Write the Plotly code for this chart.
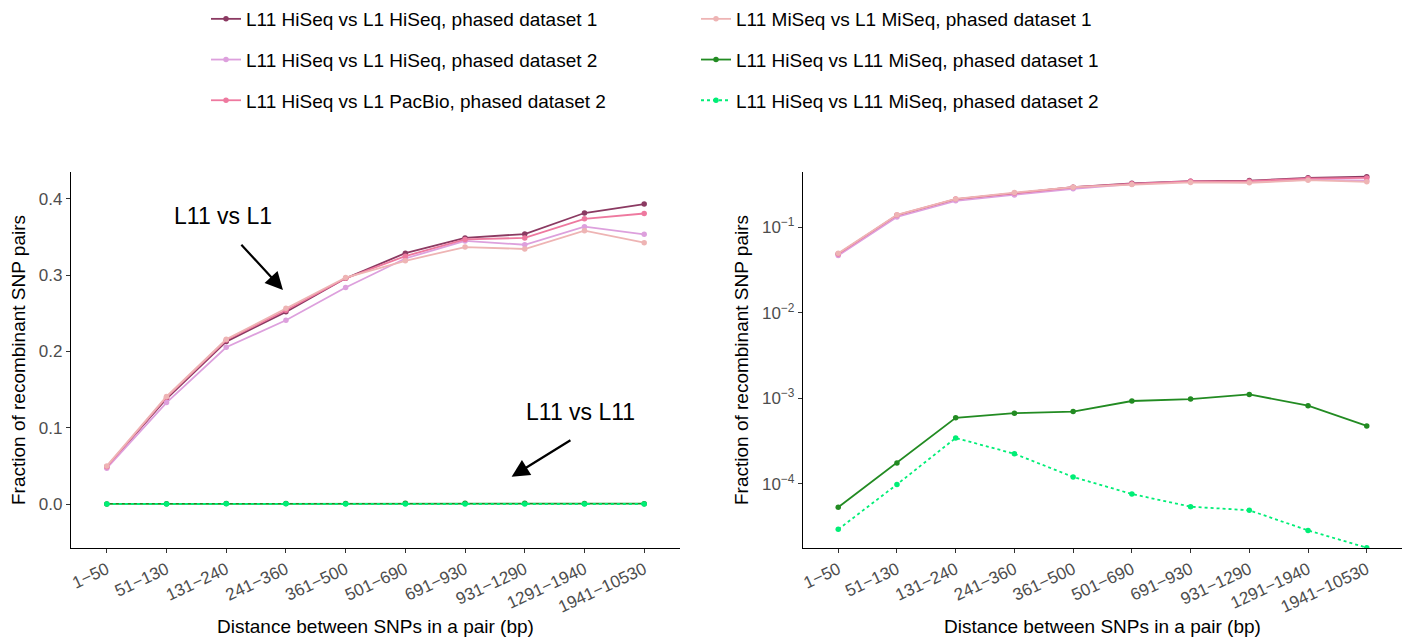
import plotly.graph_objects as go

categories = ["1\u221250", "51\u2212130", "131\u2212240", "241\u2212360", "361\u2212500",
              "501\u2212690", "691\u2212930", "931\u22121290", "1291\u22121940", "1941\u221210530"]

hiseq_l1_ds1 = [0.049, 0.138, 0.213, 0.252, 0.296, 0.329, 0.349, 0.354, 0.3816, 0.3934]
hiseq_l1_ds2 = [0.047, 0.133, 0.2055, 0.241, 0.284, 0.322, 0.345, 0.340, 0.3637, 0.3537]
pacbio_l1_ds2 = [0.049, 0.140, 0.215, 0.254, 0.296, 0.325, 0.347, 0.349, 0.374, 0.381]
miseq_l1_ds1 = [0.050, 0.141, 0.216, 0.2566, 0.297, 0.319, 0.337, 0.3344, 0.3585, 0.3427]
hiseq_miseq_ds1 = [5.3e-5, 1.75e-4, 5.9e-4, 6.7e-4, 7.0e-4, 9.3e-4, 9.8e-4, 1.11e-3, 8.2e-4, 4.75e-4]
hiseq_miseq_ds2 = [2.92e-5, 9.8e-5, 3.43e-4, 2.24e-4, 1.2e-4, 7.57e-5, 5.38e-5, 4.88e-5, 2.84e-5, 1.78e-5]

series = [
    ("L11 HiSeq vs L1 HiSeq, phased dataset 1", hiseq_l1_ds1, "#8B3A62", "solid", "legend"),
    ("L11 HiSeq vs L1 HiSeq, phased dataset 2", hiseq_l1_ds2, "#DDA0DD", "solid", "legend"),
    ("L11 HiSeq vs L1 PacBio, phased dataset 2", pacbio_l1_ds2, "#EE799F", "solid", "legend"),
    ("L11 MiSeq vs L1 MiSeq, phased dataset 1", miseq_l1_ds1, "#EEB4B4", "solid", "legend2"),
    ("L11 HiSeq vs L11 MiSeq, phased dataset 1", hiseq_miseq_ds1, "#228B22", "solid", "legend2"),
    ("L11 HiSeq vs L11 MiSeq, phased dataset 2", hiseq_miseq_ds2, "#00EE76", "dot", "legend2"),
]

left_ticks = [0.0, 0.1, 0.2, 0.3, 0.4]
log_tickvals = [1e-4, 1e-3, 1e-2, 1e-1]
log_ticktext = ["10<sup>\u22124</sup>", "10<sup>\u22123</sup>", "10<sup>\u22122</sup>", "10<sup>\u22121</sup>"]

FONT = "Liberation Sans, Arial, Helvetica, sans-serif"
W, H = 1407, 643

fig = go.Figure()
idx = list(range(len(categories)))
for i, (name, vals, color, dash, leg) in enumerate(series):
    for ax, show in (("", True), ("2", False)):
        fig.add_trace(go.Scatter(
            x=idx, y=vals, name=name, mode="lines+markers",
            line=dict(color=color, width=1.8, dash=dash),
            marker=dict(color=color, size=5.5),
            xaxis="x" + ax, yaxis="y" + ax,
            showlegend=show, legend=leg, legendgroup="g%d" % i,
        ))


def px_x(p):
    return p / W


def px_y(p):
    return 1 - p / H


axis_common = dict(
    showgrid=False, zeroline=False, showline=True, linecolor="black", linewidth=1.3,
    ticks="outside", ticklen=4, tickcolor="#333333", tickwidth=1.1,
    tickfont=dict(family=FONT, size=17, color="#4D4D4D"), automargin=False,
)

TITLE_FONT = dict(family=FONT, size=19, color="black")

xcommon = dict(axis_common, tickmode="array", tickvals=idx, ticktext=categories,
               tickangle=-25, range=[-0.6, 9.6],
               title=dict(text="Distance between SNPs in a pair (bp)",
                          font=TITLE_FONT, standoff=4))

fig.update_layout(
    width=W, height=H,
    margin=dict(l=0, r=0, t=0, b=0),
    paper_bgcolor="white", plot_bgcolor="white",
    font=dict(family=FONT),
    xaxis=dict(xcommon, domain=[px_x(71), px_x(680)], anchor="y"),
    xaxis2=dict(xcommon, domain=[px_x(803), px_x(1402)], anchor="y2"),
    yaxis=dict(axis_common, domain=[px_y(548), px_y(172)], anchor="x",
               range=[-0.0577, 0.4354], tickmode="array", tickvals=left_ticks,
               tickformat=".1f",
               title=dict(text="Fraction of recombinant SNP pairs",
                          font=TITLE_FONT, standoff=8)),
    yaxis2=dict(axis_common, domain=[px_y(548), px_y(172)], anchor="x2",
                type="log", range=[-4.753, -0.35], tickmode="array",
                tickvals=log_tickvals, ticktext=log_ticktext,
                title=dict(text="Fraction of recombinant SNP pairs",
                           font=TITLE_FONT, standoff=8)),
    legend=dict(x=px_x(206), y=1, xanchor="left", yanchor="top",
                orientation="v", tracegroupgap=13,
                font=dict(family=FONT, size=19, color="black"), bgcolor="rgba(0,0,0,0)"),
    legend2=dict(x=px_x(696), y=1, xanchor="left", yanchor="top",
                 orientation="v", tracegroupgap=13,
                 font=dict(family=FONT, size=19, color="black"), bgcolor="rgba(0,0,0,0)"),
)

fig.add_annotation(x=1.944, y=0.378, xref="x", yref="y", text="L11 vs L1",
                   showarrow=False, font=dict(family=FONT, size=23, color="black"))
fig.add_annotation(x=2.95, y=0.2807, ax=2.23, ay=0.342, xref="x", yref="y",
                   axref="x", ayref="y", text="", showarrow=True,
                   arrowhead=2, arrowsize=1.6, arrowwidth=2.2, arrowcolor="black")
fig.add_annotation(x=7.93, y=0.121, xref="x", yref="y", text="L11 vs L11",
                   showarrow=False, font=dict(family=FONT, size=23, color="black"))
fig.add_annotation(x=6.78, y=0.0358, ax=7.79, ay=0.0849, xref="x", yref="y",
                   axref="x", ayref="y", text="", showarrow=True,
                   arrowhead=2, arrowsize=1.6, arrowwidth=2.2, arrowcolor="black")

fig.write_html("out.html", config={"displayModeBar": False},
               post_script="document.body.style.margin='0';document.body.style.overflow='hidden';")
